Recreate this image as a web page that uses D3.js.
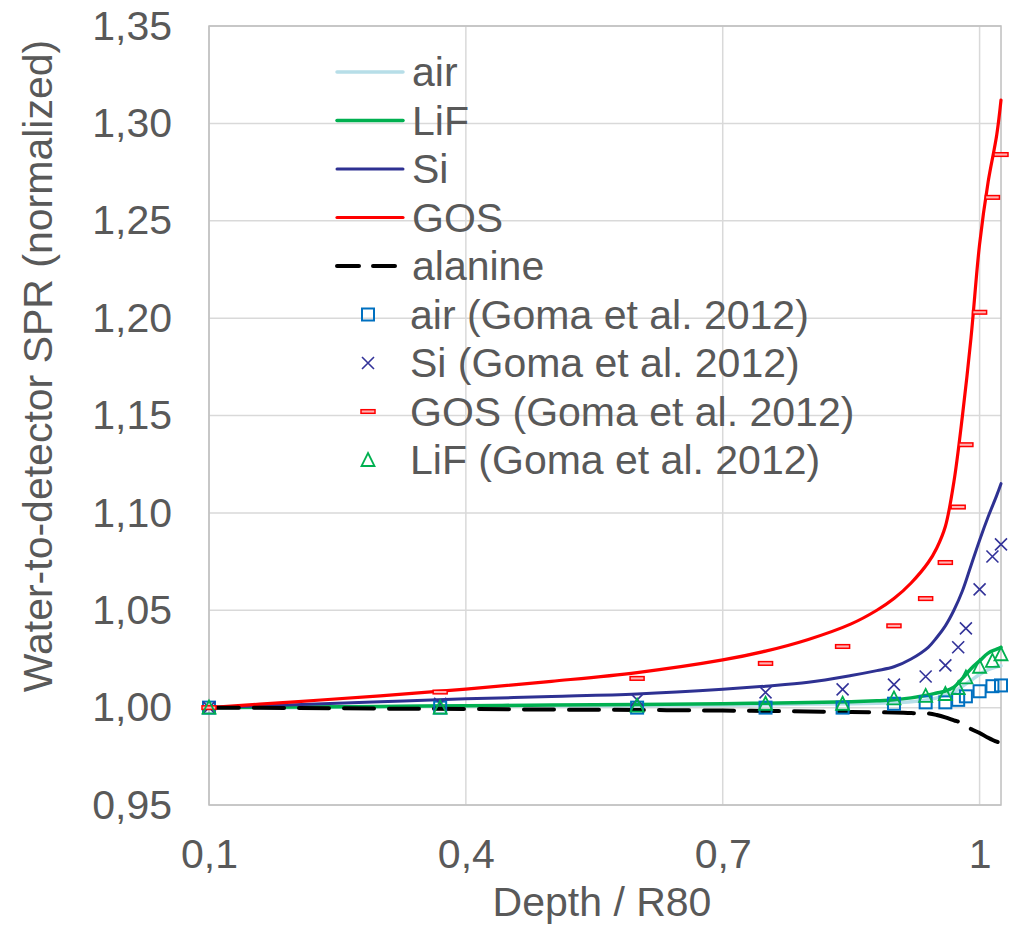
<!DOCTYPE html>
<html>
<head>
<meta charset="utf-8">
<script src="https://cdn.jsdelivr.net/npm/d3@7"></script>
<style>
  body { margin: 0; background: #fff; }
  text { font-family: "Liberation Sans", Arial, sans-serif; fill: #595959; }
</style>
</head>
<body>
<svg id="chart" width="1014" height="928"></svg>
<script>
// depth grid shared by the simulated curves
var depth = [0.1, 0.2, 0.3, 0.4, 0.5, 0.6, 0.7, 0.75, 0.8, 0.85, 0.88, 0.9, 0.92, 0.94, 0.95, 0.96, 0.97, 0.98, 0.99, 1.0, 1.01, 1.02, 1.025];
var airLine =     [1.000, 1.000, 1.0005, 1.001, 1.001, 1.001, 1.0012, 1.0015, 1.0018, 1.002, 1.0022, 1.0025, 1.003, 1.004, 1.005, 1.0065, 1.008, 1.011, 1.014, 1.017, 1.0195, 1.021, 1.0215];
var lifLine =     [1.000, 1.0003, 1.0006, 1.001, 1.0013, 1.0016, 1.002, 1.0023, 1.0026, 1.003, 1.0035, 1.004, 1.005, 1.0065, 1.0075, 1.0085, 1.0105, 1.015, 1.020, 1.024, 1.028, 1.030, 1.031];
var siLine =      [1.000, 1.0015, 1.003, 1.0045, 1.0057, 1.007, 1.0094, 1.011, 1.013, 1.0165, 1.019, 1.021, 1.025, 1.031, 1.036, 1.042, 1.050, 1.060, 1.073, 1.086, 1.098, 1.109, 1.115];
var gosLine =     [1.000, 1.003, 1.006, 1.0095, 1.0135, 1.018, 1.0245, 1.029, 1.035, 1.043, 1.050, 1.056, 1.064, 1.0745, 1.082, 1.093, 1.116, 1.150, 1.190, 1.238, 1.270, 1.294, 1.312];
var alanineLine = [1.000, 0.9998, 0.9995, 0.9993, 0.999, 0.9988, 0.9985, 0.9983, 0.998, 0.9978, 0.9976, 0.9975, 0.9972, 0.997, 0.9962, 0.995, 0.9935, 0.992, 0.989, 0.987, 0.9845, 0.9825, 0.982];

// Goma et al. 2012 points
var gomaDepth = [0.1, 0.37, 0.6, 0.75, 0.84, 0.9, 0.937, 0.96, 0.975, 0.984, 1.0, 1.015, 1.025];
var airGoma = [1.000, 1.000, 1.000, 1.000, 1.000, 1.002, 1.0027, 1.0027, 1.004, 1.0058, 1.0084, 1.011, 1.0114];
var siGoma  = [1.000, 1.002, 1.004, 1.0078, 1.0094, 1.0118, 1.016, 1.0217, 1.031, 1.0407, 1.0607, 1.0776, 1.0838];
var gosGoma = [1.000, 1.008, 1.015, 1.0227, 1.0314, 1.042, 1.056, 1.0745, 1.103, 1.135, 1.203, 1.262, 1.284];
var lifGoma = [1.000, 1.000, 1.001, 1.002, 1.002, 1.0047, 1.006, 1.007, 1.010, 1.0155, 1.021, 1.024, 1.0274];

var xTicks = [0.1, 0.4, 0.7, 1.0];
var xTickLabels = ["0,1", "0,4", "0,7", "1"];
var yTicks = [0.95, 1.0, 1.05, 1.1, 1.15, 1.2, 1.25, 1.3, 1.35];

var fontSize = "41px";
var svg = d3.select("#chart");
var plot = { left: 209, right: 1001, top: 26, bottom: 805 };

var x = d3.scaleLinear().domain([0.1, 1.025]).range([plot.left, plot.right]);
var y = d3.scaleLinear().domain([0.95, 1.35]).range([plot.bottom, plot.top]);

// gridlines
svg.append("g")
    .selectAll("line.vgrid")
    .data(xTicks)
    .enter().append("line")
    .attr("x1", function (d) { return x(d); })
    .attr("x2", function (d) { return x(d); })
    .attr("y1", plot.top)
    .attr("y2", plot.bottom)
    .attr("stroke", "#d9d9d9")
    .attr("stroke-width", 1.5);

svg.append("g")
    .selectAll("line.hgrid")
    .data(yTicks)
    .enter().append("line")
    .attr("x1", plot.left)
    .attr("x2", plot.right)
    .attr("y1", function (d) { return y(d); })
    .attr("y2", function (d) { return y(d); })
    .attr("stroke", "#d9d9d9")
    .attr("stroke-width", 1.5);

// plot border
svg.append("rect")
    .attr("x", plot.left)
    .attr("y", plot.top)
    .attr("width", plot.right - plot.left)
    .attr("height", plot.bottom - plot.top)
    .attr("fill", "none")
    .attr("stroke", "#bfbfbf")
    .attr("stroke-width", 1.5);

// axes (labels only)
var xAxis = svg.append("g")
    .attr("transform", "translate(0," + plot.bottom + ")")
    .call(d3.axisBottom(x).tickValues(xTicks).tickSize(0)
        .tickFormat(function (d, i) { return xTickLabels[i]; }));
xAxis.select(".domain").remove();
xAxis.selectAll("text")
    .attr("y", 63)
    .attr("dy", 0)
    .style("font-size", fontSize)
    .style("font-family", "'Liberation Sans', Arial, sans-serif")
    .attr("fill", "#595959");

var yAxis = svg.append("g")
    .attr("transform", "translate(172,0)")
    .call(d3.axisLeft(y).tickValues(yTicks).tickSize(0).tickPadding(0)
        .tickFormat(function (d) { return d3.format(".2f")(d).replace(".", ","); }));
yAxis.select(".domain").remove();
yAxis.selectAll("text")
    .attr("x", 0)
    .style("font-size", fontSize)
    .style("font-family", "'Liberation Sans', Arial, sans-serif")
    .attr("fill", "#595959");

// axis titles
svg.append("text")
    .attr("x", 602)
    .attr("y", 916)
    .attr("text-anchor", "middle")
    .style("font-size", fontSize)
    .text("Depth / R80");

svg.append("text")
    .attr("transform", "translate(52,366) rotate(-90)")
    .attr("text-anchor", "middle")
    .style("font-size", fontSize)
    .text("Water-to-detector SPR (normalized)");

// curves
var line = d3.line()
    .x(function (d) { return x(d[0]); })
    .y(function (d) { return y(d[1]); })
    .curve(d3.curveCatmullRom.alpha(0.5));

var curves = [
    { name: "air", values: airLine, color: "#b7dee8", width: 3.5, dash: null },
    { name: "LiF", values: lifLine, color: "#00b050", width: 3.5, dash: null },
    { name: "Si", values: siLine, color: "#2e3192", width: 3, dash: null },
    { name: "GOS", values: gosLine, color: "#ff0000", width: 3.2, dash: null },
    { name: "alanine", values: alanineLine, color: "#000000", width: 4, dash: "30,15" }
];

svg.append("defs").append("clipPath").attr("id", "clip")
    .append("rect")
    .attr("x", plot.left).attr("y", plot.top)
    .attr("width", plot.right - plot.left + 2).attr("height", plot.bottom - plot.top);

var curveG = svg.append("g").attr("clip-path", "url(#clip)");
curves.forEach(function (c) {
    curveG.append("path")
        .datum(depth.map(function (d, i) { return [d, c.values[i]]; }))
        .attr("d", line)
        .attr("fill", "none")
        .attr("stroke", c.color)
        .attr("stroke-width", c.width)
        .attr("stroke-linecap", "round")
        .attr("stroke-dasharray", c.dash);
});

// marker symbols
function drawMarker(g, type, cx, cy) {
    if (type === "square") {
        g.append("rect")
            .attr("x", cx - 6).attr("y", cy - 6)
            .attr("width", 12).attr("height", 12)
            .attr("fill", "none").attr("stroke", "#0070c0").attr("stroke-width", 2);
    } else if (type === "cross") {
        g.append("path")
            .attr("d", "M" + (cx - 6) + "," + (cy - 6) + "L" + (cx + 6) + "," + (cy + 6) +
                "M" + (cx - 6) + "," + (cy + 6) + "L" + (cx + 6) + "," + (cy - 6))
            .attr("stroke", "#333399").attr("stroke-width", 1.6).attr("fill", "none");
    } else if (type === "dash") {
        g.append("rect")
            .attr("x", cx - 7).attr("y", cy - 1.8)
            .attr("width", 14).attr("height", 3.6)
            .attr("fill", "#ffb3b3").attr("stroke", "#ff0000").attr("stroke-width", 1.5);
    } else if (type === "triangle") {
        g.append("path")
            .attr("d", "M" + cx + "," + (cy - 7) + "L" + (cx + 6.5) + "," + (cy + 6) +
                "L" + (cx - 6.5) + "," + (cy + 6) + "Z")
            .attr("stroke", "#00b050").attr("stroke-width", 1.8).attr("fill", "none");
    }
}

var pointSets = [
    { name: "air (Goma et al. 2012)", values: airGoma, type: "square" },
    { name: "Si (Goma et al. 2012)", values: siGoma, type: "cross" },
    { name: "GOS (Goma et al. 2012)", values: gosGoma, type: "dash" },
    { name: "LiF (Goma et al. 2012)", values: lifGoma, type: "triangle" }
];

var markG = svg.append("g");
pointSets.forEach(function (p) {
    gomaDepth.forEach(function (d, i) {
        drawMarker(markG, p.type, x(d), y(p.values[i]));
    });
});

// legend
var legend = svg.append("g");
var rowY = function (i) { return 72 + i * 48.5; };

curves.forEach(function (c, i) {
    legend.append("line")
        .attr("x1", 337).attr("x2", 403)
        .attr("y1", rowY(i)).attr("y2", rowY(i))
        .attr("stroke", c.color)
        .attr("stroke-width", c.width)
        .attr("stroke-linecap", "round")
        .attr("stroke-dasharray", c.dash ? "22,14" : null);
    legend.append("text")
        .attr("x", 412).attr("y", rowY(i))
        .attr("dy", "0.35em")
        .style("font-size", fontSize)
        .text(c.name);
});

pointSets.forEach(function (p, j) {
    var i = j + curves.length;
    drawMarker(legend, p.type, 368, rowY(i));
    legend.append("text")
        .attr("x", 410).attr("y", rowY(i))
        .attr("dy", "0.35em")
        .style("font-size", fontSize)
        .text(p.name);
});
</script>
</body>
</html>
